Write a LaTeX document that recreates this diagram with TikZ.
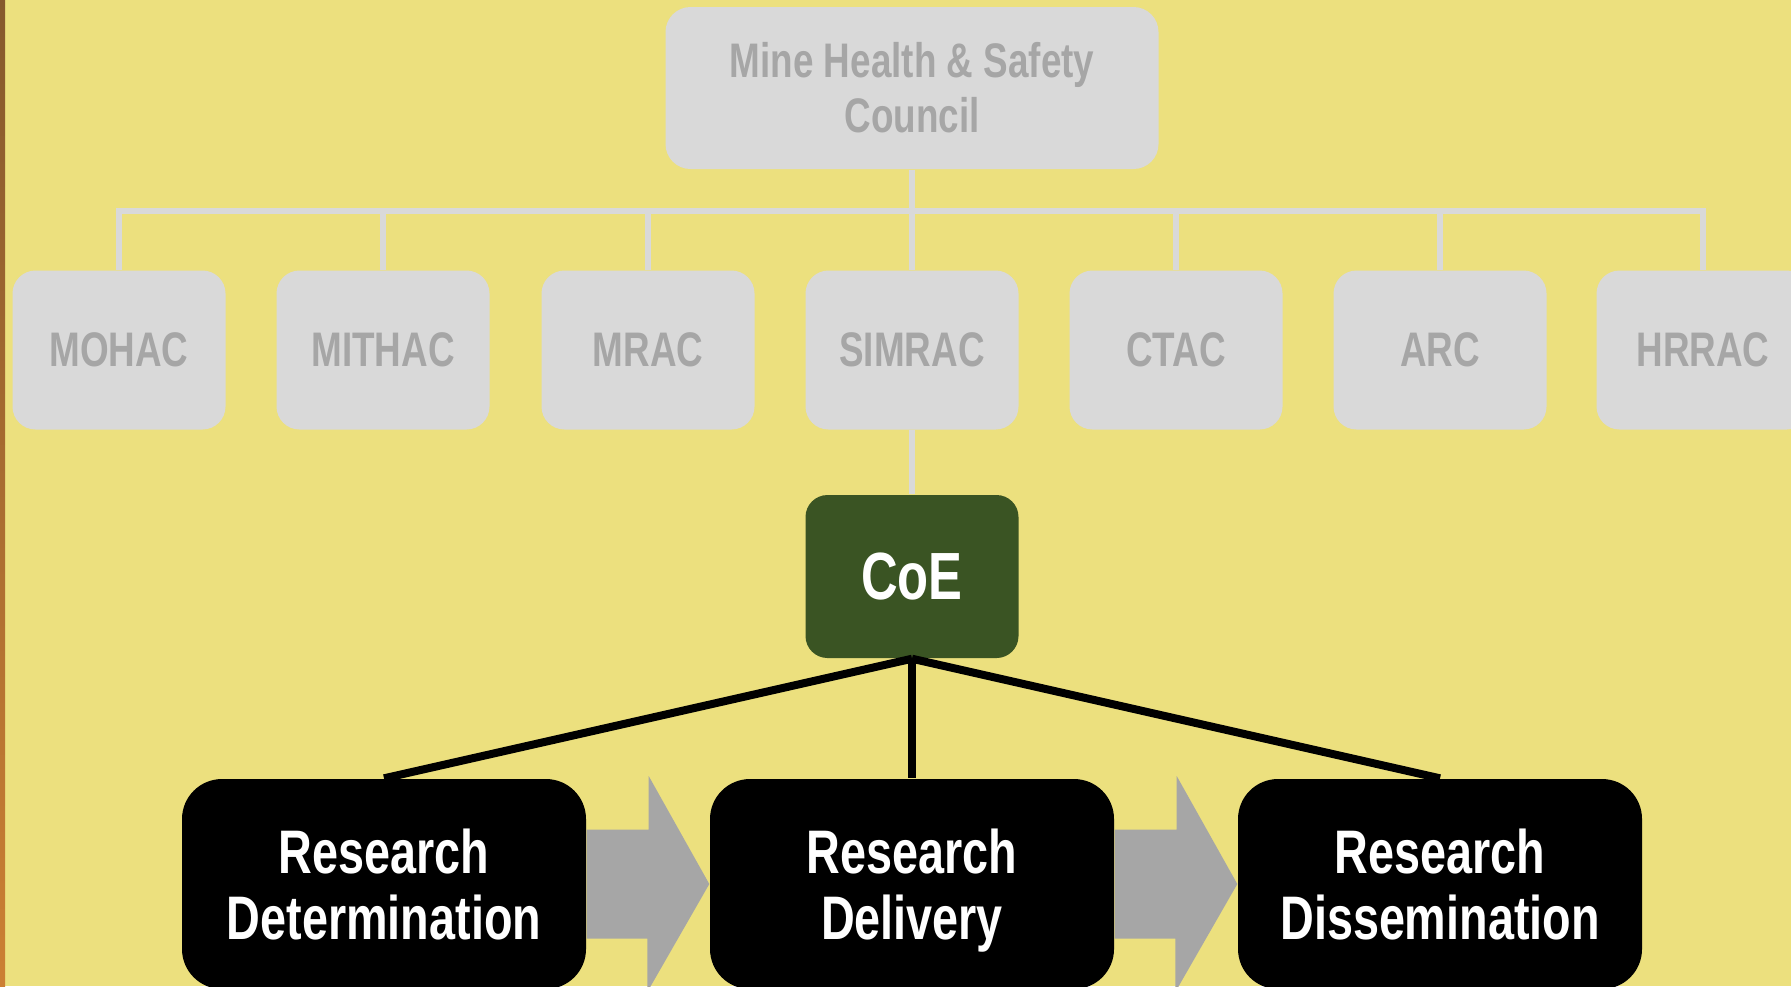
\documentclass[tikz,border=0pt]{standalone}
\usepackage{fontspec}
\newfontfamily\narrowsans{Liberation Sans}[FakeStretch=0.76]
\definecolor{bgyellow}{RGB}{236,224,126}
\definecolor{boxgray}{RGB}{217,217,217}
\definecolor{textgray}{RGB}{166,166,166}
\definecolor{coegreen}{RGB}{58,84,35}
\begin{document}
\begin{tikzpicture}[
    council/.style={rounded corners=2.5mm, fill=boxgray, text=textgray, align=center,
      minimum width=4.93cm, minimum height=1.62cm,
      font={\narrowsans\bfseries\fontsize{13.8}{15.6}\selectfont}},
    committee/.style={rounded corners=2.3mm, fill=boxgray, text=textgray,
      minimum width=2.13cm, minimum height=1.59cm,
      font={\narrowsans\bfseries\fontsize{13.8}{15.6}\selectfont}},
    coebox/.style={rounded corners=2.2mm, fill=coegreen, text=white,
      minimum width=2.13cm, minimum height=1.63cm,
      font={\narrowsans\bfseries\fontsize{19}{21}\selectfont}},
    stage/.style={rounded corners=4mm, fill=black, text=white, align=center,
      minimum width=4.04cm, minimum height=2.1cm, text depth=0pt,
      font={\narrowsans\bfseries\fontsize{17.5}{18.8}\selectfont}},
    bus/.style={draw=boxgray, line width=0.6mm},
    tie/.style={draw=black, line width=0.8mm},
    flowarrow/.style={fill=textgray}
  ]
  \useasboundingbox (0,0) rectangle (17.91,-9.86);
  \clip (0,0) rectangle (17.91,-9.86);
  \fill[bgyellow] (0,0) rectangle (17.91,-9.86);
  \shade[top color=brown!70!black, bottom color=brown!80!orange] (0,0) rectangle (0.05,-9.86);

  % council and committees
  \node[council] (mhsc) at (9.12,-0.88) {Mine Health \& Safety\\Council};
  \node[committee] (mohac) at (1.19,-3.50) {MOHAC};
  \node[committee] (mithac) at (3.83,-3.50) {MITHAC};
  \node[committee] (mrac) at (6.48,-3.50) {MRAC};
  \node[committee] (simrac) at (9.12,-3.50) {SIMRAC};
  \node[committee] (ctac) at (11.76,-3.50) {CTAC};
  \node[committee] (arc) at (14.40,-3.50) {ARC};
  \node[committee] (hrrac) at (17.03,-3.50) {HRRAC};
  \coordinate (bus) at (0,-2.11);

  \draw[bus] (mohac.north) |- (bus -| hrrac.north) -- (hrrac.north);
  \draw[bus] (mhsc.south) -- (mhsc.south |- bus);
  \draw[bus] (mithac.north) -- (mithac.north |- bus);
  \draw[bus] (mrac.north) -- (mrac.north |- bus);
  \draw[bus] (simrac.north) -- (simrac.north |- bus);
  \draw[bus] (ctac.north) -- (ctac.north |- bus);
  \draw[bus] (arc.north) -- (arc.north |- bus);

  % centre of excellence
  \node[coebox] (coe) at (9.12,-5.765) {CoE};
  \draw[bus] (simrac.south) -- (coe.north);

  % research stages
  \node[stage] (det) at (3.84,-8.84) {Research\\Determination};
  \node[stage] (del) at (9.12,-8.84) {Research\\Delivery};
  \node[stage] (dis) at (14.40,-8.84) {Research\\Dissemination};

  \draw[tie] (coe.south) -- (det.north);
  \draw[tie] (coe.south) -- (del.north);
  \draw[tie] (coe.south) -- (dis.north);

  \fill[flowarrow] ([yshift=5.45mm]det.east) -- ++(6.2mm,0) -- ++(0,5.35mm) -- (del.west)
    -- ++(-6.2mm,-10.8mm) -- ++(0,5.35mm) -- ([yshift=-5.45mm]det.east) -- cycle;
  \fill[flowarrow] ([yshift=5.45mm]del.east) -- ++(6.2mm,0) -- ++(0,5.35mm) -- (dis.west)
    -- ++(-6.2mm,-10.8mm) -- ++(0,5.35mm) -- ([yshift=-5.45mm]del.east) -- cycle;
\end{tikzpicture}
\end{document}
